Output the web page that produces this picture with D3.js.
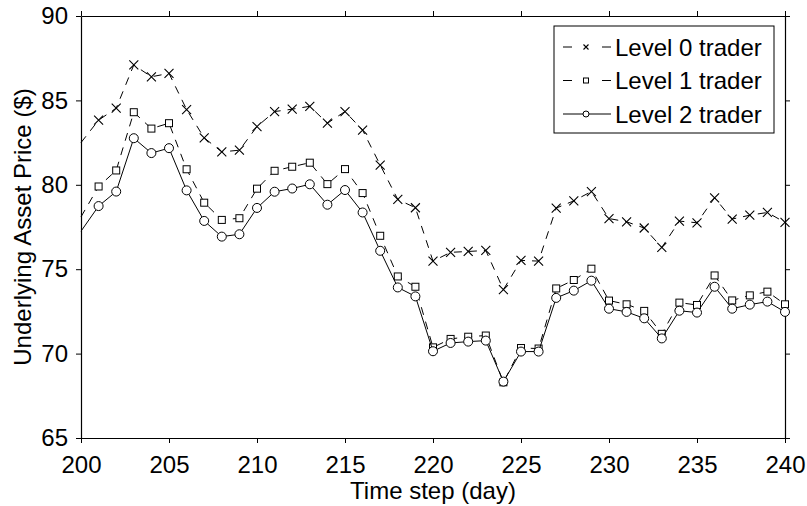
<!DOCTYPE html>
<html>
<head>
<meta charset="utf-8">
<script src="https://cdn.jsdelivr.net/npm/d3@7"></script>
<style>
  body { margin: 0; background: #fff; }
  svg { font-family: "Liberation Sans", Arial, sans-serif; }
</style>
</head>
<body>
<svg width="807" height="506"></svg>
<script>
// time steps (days)
var days = d3.range( 200, 241 );

var level0 = [ 82.5, 83.83, 84.54, 87.1, 86.4, 86.6, 84.46, 82.78, 81.95, 82.05, 83.45,
  84.34, 84.48, 84.65, 83.65, 84.34, 83.24, 81.17, 79.13, 78.64, 75.48,
  76.0, 76.05, 76.11, 73.79, 75.52, 75.48, 78.62, 79.05, 79.6, 78.0,
  77.81, 77.44, 76.29, 77.85, 77.75, 79.23, 77.97, 78.2, 78.36, 77.77 ];

var level1 = [ 78.1, 79.9, 80.85, 84.3, 83.33, 83.65, 80.92, 78.94, 77.92, 78.02, 79.77,
  80.83, 81.07, 81.31, 80.04, 80.93, 79.51, 76.98, 74.57, 73.96, 70.37,
  70.87, 71.0, 71.07, 68.3, 70.33, 70.3, 73.86, 74.36, 75.03, 73.14,
  72.92, 72.53, 71.17, 73.02, 72.88, 74.63, 73.15, 73.45, 73.67, 72.92 ];

var level2 = [ 77.25, 78.74, 79.6, 82.76, 81.88, 82.17, 79.67, 77.86, 76.93, 77.07, 78.63,
  79.59, 79.78, 80.03, 78.82, 79.69, 78.36, 76.09, 73.92, 73.39, 70.14,
  70.63, 70.71, 70.77, 68.34, 70.12, 70.12, 73.3, 73.73, 74.32, 72.66,
  72.47, 72.09, 70.9, 72.54, 72.43, 73.96, 72.66, 72.9, 73.08, 72.47 ];

var xTicks = [ 200, 205, 210, 215, 220, 225, 230, 235, 240 ];
var yTicks = [ 65, 70, 75, 80, 85, 90 ];
var names = [ "Level 0 trader", "Level 1 trader", "Level 2 trader" ];

var svg = d3.select( "svg" ),
  margin = { top: 16, right: 22, bottom: 68, left: 81 },
  width = 807 - margin.left - margin.right,
  height = 506 - margin.top - margin.bottom;

var x = d3.scaleLinear().domain( [ 200, 240 ] ).range( [ 0, width ] ),
  y = d3.scaleLinear().domain( [ 65, 90 ] ).range( [ height, 0 ] );

var g = svg.append( "g" )
  .attr( "transform", "translate(" + margin.left + "," + margin.top + ")" );

// axes on all four sides, ticks pointing out
function styleAxis( sel ) {
  sel.selectAll( "path" ).attr( "stroke", "#000" ).attr( "stroke-width", 1.2 );
  sel.selectAll( "line" ).attr( "stroke", "#000" );
  sel.selectAll( "text" ).attr( "fill", "#000" ).style( "font-size", "24px" );
}

g.append( "g" )
  .attr( "transform", "translate(0," + height + ")" )
  .call( d3.axisBottom( x ).tickValues( xTicks ).tickSize( 5 ).tickSizeOuter( 0 ).tickPadding( 13 ) )
  .call( styleAxis );
g.append( "g" )
  .call( d3.axisTop( x ).tickValues( xTicks ).tickSize( 5 ).tickSizeOuter( 0 ).tickFormat( "" ) )
  .call( styleAxis );
g.append( "g" )
  .call( d3.axisLeft( y ).tickValues( yTicks ).tickSize( 5 ).tickSizeOuter( 0 ).tickPadding( 8 ) )
  .call( styleAxis );
g.append( "g" )
  .attr( "transform", "translate(" + width + ",0)" )
  .call( d3.axisRight( y ).tickValues( yTicks ).tickSize( 5 ).tickSizeOuter( 0 ).tickFormat( "" ) )
  .call( styleAxis );

// axis titles
svg.append( "text" )
  .attr( "x", margin.left + width / 2 )
  .attr( "y", 499 )
  .attr( "text-anchor", "middle" )
  .style( "font-size", "24px" )
  .text( "Time step (day)" );
svg.append( "text" )
  .attr( "transform", "translate(31," + ( margin.top + height / 2 ) + ") rotate(-90)" )
  .attr( "text-anchor", "middle" )
  .style( "font-size", "24px" )
  .text( "Underlying Asset Price ($)" );

var line = d3.line()
  .x( function ( d, i ) { return x( days[ i ] ); } )
  .y( function ( d ) { return y( d ); } );

var series = [
  { values: level0, dash: "8,7", marker: "x" },
  { values: level1, dash: "8,7", marker: "sq" },
  { values: level2, dash: null, marker: "o" }
];

function drawMarker( sel, kind, s ) {
  if ( kind === "x" ) {
    sel.append( "path" )
      .attr( "d", "M" + -s + "," + -s + "L" + s + "," + s + "M" + -s + "," + s + "L" + s + "," + -s )
      .attr( "stroke", "#000" ).attr( "stroke-width", 1.1 );
  } else if ( kind === "sq" ) {
    sel.append( "rect" )
      .attr( "x", -s ).attr( "y", -s ).attr( "width", 2 * s ).attr( "height", 2 * s )
      .attr( "fill", "#fff" ).attr( "stroke", "#000" ).attr( "stroke-width", 1 );
  } else {
    sel.append( "circle" )
      .attr( "r", s )
      .attr( "fill", "#fff" ).attr( "stroke", "#000" ).attr( "stroke-width", 1 );
  }
}

var sizes = { x: 4.5, sq: 3.5, o: 4.5 };

series.forEach( function ( s ) {
  g.append( "path" )
    .datum( s.values )
    .attr( "fill", "none" )
    .attr( "stroke", "#000" )
    .attr( "stroke-width", 1 )
    .attr( "stroke-dasharray", s.dash )
    .attr( "d", line );
  g.selectAll( null )
    .data( s.values )
    .enter().append( "g" )
    .attr( "transform", function ( d, i ) {
      return "translate(" + x( days[ i ] ) + "," + y( d ) + ")";
    } )
    .each( function ( d, i ) {
      if ( i > 0 ) drawMarker( d3.select( this ), s.marker, sizes[ s.marker ] );
    } );
} );

// legend
var lg = svg.append( "g" ).attr( "transform", "translate(554,26)" );
lg.append( "rect" )
  .attr( "width", 220 ).attr( "height", 107 )
  .attr( "fill", "#fff" ).attr( "stroke", "#000" ).attr( "stroke-width", 1 );
series.forEach( function ( s, i ) {
  var ly = 21 + i * 33.5;
  lg.append( "line" )
    .attr( "x1", 9 ).attr( "x2", 57 ).attr( "y1", ly ).attr( "y2", ly )
    .attr( "stroke", "#000" ).attr( "stroke-width", 1 )
    .attr( "stroke-dasharray", s.dash ? "9,30" : null );
  var m = lg.append( "g" ).attr( "transform", "translate(32," + ly + ")" );
  drawMarker( m, s.marker, s.marker === "o" ? 3 : 2.5 );
  lg.append( "text" )
    .attr( "x", 61 ).attr( "y", ly + 8.5 )
    .style( "font-size", "24px" )
    .text( names[ i ] );
} );
</script>
</body>
</html>
